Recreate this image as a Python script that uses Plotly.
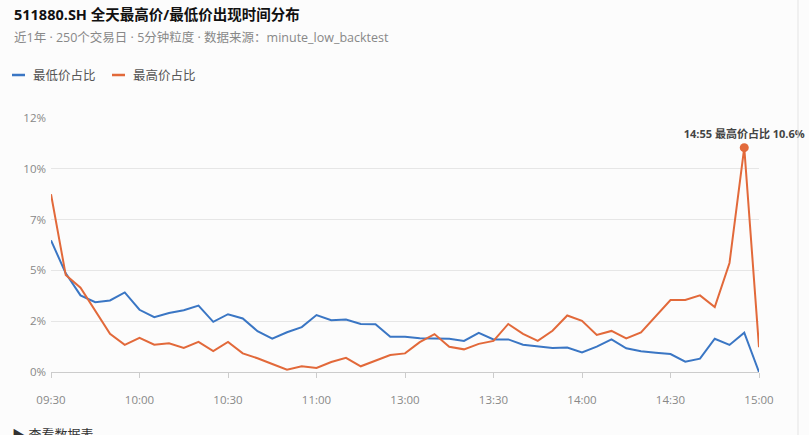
import plotly.graph_objects as go

# 5-minute buckets: morning 09:30-11:25, afternoon 13:00-15:00
times = [f"{h:02d}:{m:02d}" for h in (9, 10, 11) for m in range(0, 60, 5)
         if (h, m) >= (9, 30) and (h, m) <= (11, 25)]
times += [f"{h:02d}:{m:02d}" for h in (13, 14) for m in range(0, 60, 5)] + ["15:00"]

# share of days whose low / high occurred in each bucket (%)
low_pct = [6.22, 4.66, 3.62, 3.30, 3.38, 3.76, 2.94, 2.59, 2.79, 2.92,
           3.14, 2.37, 2.73, 2.53, 1.93, 1.58, 1.88, 2.12, 2.69, 2.45,
           2.48, 2.27, 2.26, 1.66, 1.66, 1.60, 1.58, 1.57, 1.47, 1.85,
           1.54, 1.54, 1.29, 1.22, 1.13, 1.16, 0.92, 1.20, 1.54, 1.12,
           0.98, 0.91, 0.85, 0.49, 0.63, 1.57, 1.28, 1.86, 0.00]
high_pct = [8.40, 4.58, 3.98, 2.87, 1.80, 1.28, 1.61, 1.29, 1.36, 1.14,
            1.42, 0.99, 1.42, 0.88, 0.65, 0.38, 0.11, 0.27, 0.19, 0.47,
            0.67, 0.27, 0.53, 0.80, 0.88, 1.41, 1.79, 1.19, 1.07, 1.33,
            1.47, 2.27, 1.80, 1.47, 1.95, 2.67, 2.42, 1.75, 1.94, 1.59,
            1.87, 2.63, 3.40, 3.40, 3.62, 3.07, 5.15, 10.60, 1.17]

tick_labels = ["09:30", "10:00", "10:30", "11:00", "13:00", "13:30", "14:00", "14:30", "15:00"]
y_ticks = [0, 2.4, 4.8, 7.2, 9.6, 12]

BLUE = "#3a76c4"
ORANGE = "#e2693a"
FONT = "Open Sans, Noto Sans CJK SC, sans-serif"

x_idx = list(range(len(times)))
peak = max(range(len(high_pct)), key=lambda i: high_pct[i])

fig = go.Figure()
fig.add_trace(go.Scatter(x=x_idx, y=low_pct, mode="lines", name="最低价占比",
                         line=dict(color=BLUE, width=2)))
fig.add_trace(go.Scatter(x=x_idx, y=high_pct, mode="lines", name="最高价占比",
                         line=dict(color=ORANGE, width=2)))
# highlight the peak
fig.add_trace(go.Scatter(x=[peak], y=[high_pct[peak]], mode="markers+text",
                         marker=dict(color=ORANGE, size=9),
                         text=[f"{times[peak]} 最高价占比 {high_pct[peak]:.1f}%"],
                         textposition="top center",
                         textfont=dict(size=11, color="#444", family=FONT, weight="bold"),
                         showlegend=False, cliponaxis=False))

fig.update_layout(
    width=809, height=435,
    margin=dict(l=51, r=50, t=118, b=63),
    paper_bgcolor="#fcfcfc", plot_bgcolor="#fcfcfc",
    showlegend=False,
    font=dict(family=FONT, color="#888"),
    xaxis=dict(range=[0, len(times) - 1],
               tickvals=[times.index(t) for t in tick_labels], ticktext=tick_labels,
               showgrid=False, zeroline=False, showline=True, linecolor="#cccccc",
               ticks="outside", ticklen=5, tickcolor="#cccccc",
               ticklabelstandoff=12,
               tickfont=dict(size=11.5, color="#888")),
    yaxis=dict(range=[0, 12], tickvals=y_ticks,
               ticktext=[f"{v:.0f}%" for v in y_ticks],
               showgrid=True, gridcolor="#e6e6e6", zeroline=False,
               ticks="", ticklabelstandoff=4,
               tickfont=dict(size=11.5, color="#888")),
)

def px_x(p):
    return (p - 51) / 708

def px_y(p):
    return (372 - p) / 254

# title + subtitle
fig.add_annotation(xref="paper", yref="paper", x=px_x(12), y=px_y(14),
                   xanchor="left", yanchor="middle", showarrow=False,
                   text="<b>511880.SH 全天最高价/最低价出现时间分布</b>",
                   font=dict(size=14.5, color="#111", family=FONT))
fig.add_annotation(xref="paper", yref="paper", x=px_x(12), y=px_y(38),
                   xanchor="left", yanchor="middle", showarrow=False,
                   text="近1年 · 250个交易日 · 5分钟粒度 · 数据来源：minute_low_backtest",
                   font=dict(size=12.5, color="#888", family=FONT))

# legend drawn by hand
for x0, label, color in [(12, "最低价占比", BLUE), (112, "最高价占比", ORANGE)]:
    fig.add_shape(type="line", xref="paper", yref="paper",
                  x0=px_x(x0), x1=px_x(x0 + 13), y0=px_y(75), y1=px_y(75),
                  line=dict(color=color, width=2.5))
    fig.add_annotation(xref="paper", yref="paper", x=px_x(x0 + 19), y=px_y(75),
                       xanchor="left", yanchor="middle", showarrow=False,
                       text=label, font=dict(size=12.5, color="#555", family=FONT))

# data table toggle at the bottom
fig.add_annotation(xref="paper", yref="paper", x=px_x(10), y=px_y(423),
                   xanchor="left", yanchor="top", showarrow=False,
                   text="▶ 查看数据表", font=dict(size=13, color="#333", family=FONT))

# right border of the panel
fig.add_shape(type="line", xref="paper", yref="paper",
              x0=px_x(798), x1=px_x(798), y0=px_y(435), y1=px_y(0),
              line=dict(color="#e4e4e4", width=1))

# drop the default body margin so the figure sits at the window corner
fig.write_html("out.html", config={"displayModeBar": False},
               post_script="document.body.style.margin='0';")
